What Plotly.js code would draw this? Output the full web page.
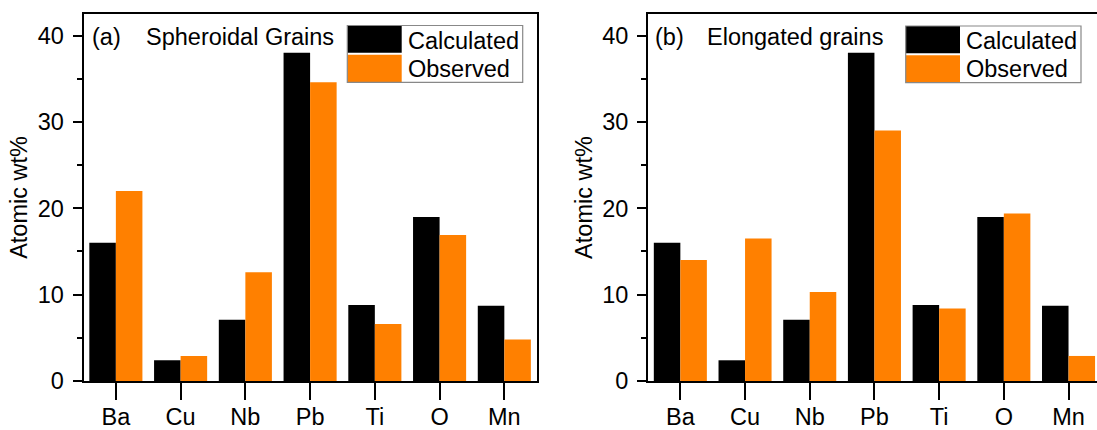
<!DOCTYPE html>
<html>
<head>
<meta charset="utf-8">
<script src="https://cdn.plot.ly/plotly-3.0.1.min.js"></script>
<style>html,body{margin:0;padding:0;background:#fff;}#chart{width:1097px;height:430px;}</style>
</head>
<body>
<div id="chart"></div>
<script>
// ---- data ----
const categories = ['Ba', 'Cu', 'Nb', 'Pb', 'Ti', 'O', 'Mn'];
const calculated = [16.0, 2.4, 7.1, 38.0, 8.8, 19.0, 8.7];
const observedSpheroidal = [22.0, 2.9, 12.6, 34.6, 6.6, 16.9, 4.8];
const observedElongated = [14.0, 16.5, 10.3, 29.0, 8.4, 19.4, 2.9];
const seriesNames = ['Calculated', 'Observed'];
const panelLabels = ['(a)', '(b)'];
const panelTitles = ['Spheroidal Grains', 'Elongated grains'];
const yTitle = 'Atomic wt%';

// ---- styling ----
const W = 1097, H = 430, MT = 14, MB = 49;
const PH = H - MT - MB;
const BLACK = '#000000', ORANGE = '#FF8000';
const FONT = 'Liberation Sans, Arial, Helvetica, sans-serif';
const FS = 23.5;
const px = v => v / W;               // pixel -> paper x
const py = v => (H - MB - v) / PH;   // pixel -> paper y

const traces = [
  {type: 'bar', x: categories, y: calculated, name: seriesNames[0], xaxis: 'x', yaxis: 'y',
   marker: {color: BLACK, line: {width: 0}}},
  {type: 'bar', x: categories, y: observedSpheroidal, name: seriesNames[1], xaxis: 'x', yaxis: 'y',
   marker: {color: ORANGE, line: {width: 0}}},
  {type: 'bar', x: categories, y: calculated, name: seriesNames[0], xaxis: 'x2', yaxis: 'y2',
   marker: {color: BLACK, line: {width: 0}}},
  {type: 'bar', x: categories, y: observedElongated, name: seriesNames[1], xaxis: 'x2', yaxis: 'y2',
   marker: {color: ORANGE, line: {width: 0}}}
];

function xMain(domain, range, anchor, mirror) {
  return {
    domain: domain, anchor: anchor, type: 'category', range: range,
    showline: true, linewidth: 2, linecolor: BLACK, mirror: mirror,
    ticks: 'outside', ticklen: 17, tickwidth: 2, tickcolor: BLACK,
    tickfont: {size: FS, color: BLACK, family: FONT}, ticklabelstandoff: -3,
    showgrid: false, zeroline: false, fixedrange: true
  };
}
function xMinor(over, anchor, range) {
  return {
    overlaying: over, anchor: anchor, side: 'bottom', range: range,
    tickmode: 'linear', tick0: -0.5, dtick: 1,
    ticks: 'outside', ticklen: 7, tickwidth: 2, tickcolor: BLACK,
    showticklabels: false, showline: false, showgrid: false, zeroline: false
  };
}
function yMain(anchor, mirror) {
  return {
    anchor: anchor, range: [0, 42.5], dtick: 10, tick0: 0,
    showline: true, linewidth: 2, linecolor: BLACK, mirror: mirror,
    ticks: 'outside', ticklen: 9, tickwidth: 2, tickcolor: BLACK,
    minor: {dtick: 5, ticks: 'outside', ticklen: 5, tickwidth: 2, tickcolor: BLACK},
    tickfont: {size: FS, color: BLACK, family: FONT}, ticklabelstandoff: 4,
    title: {text: yTitle, font: {size: FS, color: BLACK, family: FONT}, standoff: 3},
    showgrid: false, zeroline: false, fixedrange: true
  };
}

const leftRange = [-0.5, 6.5];
const rightRange = [-0.5, 6.44];

const shapes = [];
const annotations = [];
function legend(x0, x1, swR, y0, yMid, y1, textX) {
  shapes.push({type: 'rect', xref: 'paper', yref: 'paper', x0: px(x0), x1: px(swR), y0: py(y0), y1: py(yMid - 1),
    fillcolor: BLACK, line: {width: 0}, layer: 'above'});
  shapes.push({type: 'rect', xref: 'paper', yref: 'paper', x0: px(x0), x1: px(swR), y0: py(yMid + 1), y1: py(y1),
    fillcolor: ORANGE, line: {width: 0}, layer: 'above'});
  shapes.push({type: 'rect', xref: 'paper', yref: 'paper', x0: px(x0), x1: px(x1), y0: py(y0), y1: py(y1),
    fillcolor: 'rgba(0,0,0,0)', line: {width: 1.2, color: '#888888'}, layer: 'above'});
  annotations.push({xref: 'paper', yref: 'paper', x: px(textX), y: py((y0 + yMid) / 2 + 1), xanchor: 'left', yanchor: 'middle',
    text: seriesNames[0], showarrow: false, font: {size: FS, color: BLACK, family: FONT}});
  annotations.push({xref: 'paper', yref: 'paper', x: px(textX), y: py((yMid + y1) / 2 + 1), xanchor: 'left', yanchor: 'middle',
    text: seriesNames[1], showarrow: false, font: {size: FS, color: BLACK, family: FONT}});
}
legend(347.3, 522.7, 401.7, 25.5, 53.8, 82.3, 406);
legend(905.7, 1081, 960, 26, 54.3, 82.7, 964);

function label(x, y, t) {
  annotations.push({xref: 'paper', yref: 'paper', x: px(x), y: py(y), xanchor: 'left', yanchor: 'middle',
    text: t, showarrow: false, font: {size: FS, color: BLACK, family: FONT}});
}
label(89.5, 37, panelLabels[0]);
label(144, 37, panelTitles[0]);
label(653, 37, panelLabels[1]);
label(705, 37, panelTitles[1]);

const layout = {
  width: W, height: H,
  margin: {l: 0, r: 0, t: MT, b: MB, pad: 0},
  paper_bgcolor: '#ffffff', plot_bgcolor: '#ffffff',
  font: {family: FONT, size: FS, color: BLACK},
  showlegend: false,
  barmode: 'group', bargap: 0.18, bargroupgap: 0,
  xaxis: xMain([83.5 / W, 536.7 / W], leftRange, 'y', true),
  yaxis: yMain('x', true),
  xaxis2: xMain([648 / W, 1], rightRange, 'y2', true),
  yaxis2: yMain('x2', false),
  xaxis3: xMinor('x', 'y', leftRange),
  xaxis4: xMinor('x2', 'y2', rightRange),
  shapes: shapes,
  annotations: annotations
};

Plotly.newPlot('chart', traces, layout, {displayModeBar: false, staticPlot: true});
</script>
</body>
</html>
